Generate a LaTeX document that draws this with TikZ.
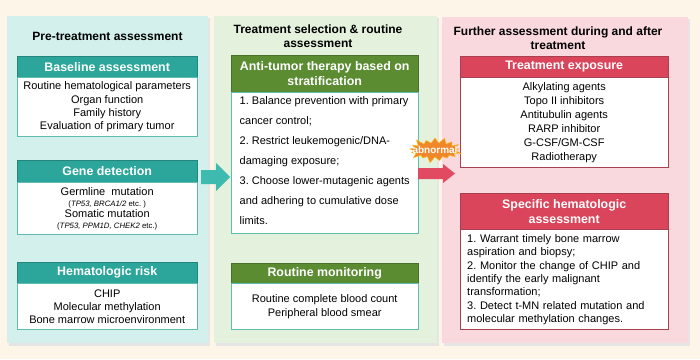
\documentclass[tikz,border=0pt]{standalone}
\usepackage{fontspec}
\setmainfont{Liberation Sans}
\usetikzlibrary{positioning, shapes.symbols}

\definecolor{cream}{HTML}{FDF6E8}
\definecolor{tealbg}{HTML}{D3F0EC}
\definecolor{greenbg}{HTML}{E4F1DC}
\definecolor{pinkbg}{HTML}{F9D8DE}
\definecolor{tealhd}{HTML}{2CA69A}
\definecolor{greenhd}{HTML}{5B8C32}
\definecolor{redhd}{HTML}{DA455B}
\definecolor{tealln}{HTML}{5FBDB0}
\definecolor{redln}{HTML}{A8404F}
\definecolor{burst}{HTML}{F0872B}
\definecolor{tealarr}{HTML}{3EBAAE}
\definecolor{redarr}{HTML}{E24A62}

\frenchspacing
\tikzset{
  paneltitle/.style={font=\fontsize{12}{14}\selectfont\bfseries, align=center},
  head/.style={anchor=north west, inner sep=0pt, text=white, align=center,
    font=\fontsize{12.4}{15}\selectfont\bfseries},
  body/.style={draw, fill=white, inner sep=0pt, align=center,
    font=\fontsize{11}{13.3}\selectfont, below=0pt of #1}
}

\begin{document}
\begin{tikzpicture}[x=1pt, y=-1pt]
\fill[cream] (0,0) rectangle (700,359);
\useasboundingbox (0,0) rectangle (700,359);
% panels
\fill[black!10] (9,18) rectangle (210,346);
\fill[tealbg] (7,16) rectangle (208,343);
\fill[black!10] (216,18) rectangle (439,346);
\fill[greenbg] (214,16) rectangle (437,343);
\fill[black!10] (444,19) rectangle (690,346);
\fill[pinkbg] (442,17) rectangle (688,343);

% titles
\node[paneltitle] (pretitle) at (107.5,36) {Pre-treatment assessment};
\node[paneltitle] (seltitle) at (318,36) {Treatment selection \& routine\\assessment};
\node[paneltitle] (furtitle) at (558,38) {Further assessment during and after\\treatment};

% left column
\node[head, fill=tealhd, draw=tealhd!80!black, minimum width=180pt, minimum height=21pt] (basehead) at (17,56) {Baseline assessment};
\node[body=basehead, draw=tealln, minimum width=180pt, minimum height=59pt] (basebody)
  {Routine hematological parameters\\Organ function\\Family history\\Evaluation of primary tumor};

\node[head, fill=tealhd, draw=tealhd!80!black, minimum width=180pt, minimum height=22pt] (genehead) at (17,160) {Gene detection};
\node[body=genehead, draw=tealln, minimum width=180pt, minimum height=52pt,
  font=\fontsize{11}{11}\selectfont] (genebody)
  {Germline\ \ mutation\\{\fontsize{7.8}{8}\selectfont (\textit{TP53, BRCA1/2} etc. )}\\Somatic mutation\\{\fontsize{7.8}{8}\selectfont (\textit{TP53, PPM1D, CHEK2} etc.)}};

\node[head, fill=tealhd, draw=tealhd!80!black, minimum width=180pt, minimum height=21pt] (riskhead) at (17,262) {Hematologic risk};
\node[body=riskhead, draw=tealln, minimum width=180pt, minimum height=46pt] (riskbody)
  {CHIP\\Molecular methylation\\Bone marrow microenvironment};

% middle column
\node[head, fill=greenhd, draw=greenhd!80!black, minimum width=187pt, minimum height=37pt] (antihead) at (231,55)
  {Anti-tumor therapy based on\\stratification};
\node[body=antihead, draw=tealln, minimum width=187pt, minimum height=141pt, align=left,
  font=\fontsize{11}{20}\selectfont, text depth=6pt] (antibody)
  {1. Balance prevention with primary\\cancer control;\\2. Restrict leukemogenic/DNA-\\damaging exposure;\\3. Choose lower-mutagenic agents\\and adhering to cumulative dose\\limits.};

\node[head, fill=greenhd, draw=greenhd!80!black, minimum width=187pt, minimum height=20pt] (monihead) at (231,263) {Routine monitoring};
\node[body=monihead, draw=tealln, minimum width=187pt, minimum height=46pt] (monibody)
  {Routine complete blood count\\Peripheral blood smear};

% right column
\node[head, fill=redhd, draw=redln, minimum width=208pt, minimum height=21pt] (exphead) at (460,56) {Treatment exposure};
\node[body=exphead, draw=redln, minimum width=208pt, minimum height=90pt,
  font=\fontsize{11}{14}\selectfont] (expbody)
  {Alkylating agents\\Topo II inhibitors\\Antitubulin agents\\RARP inhibitor\\G-CSF/GM-CSF\\Radiotherapy};

\node[head, fill=redhd, draw=redln, minimum width=208pt, minimum height=36pt] (spechead) at (460,193)
  {Specific hematologic\\assessment};
\node[body=spechead, draw=redln, minimum width=208pt, minimum height=100pt, align=left,
  text width=194pt, inner xsep=7pt] (specbody)
  {1. Warrant timely bone marrow\\aspiration and biopsy;\\2. Monitor the change of CHIP and\\identify the early malignant\\transformation;\\3. Detect t-MN related mutation and\\molecular methylation changes.};

% arrows
\fill[tealarr] (201,170) -- (216,170) -- (216,163) -- (230,177) -- (216,191) -- (216,184) -- (201,184) -- cycle;
\fill[redarr] (418,168) -- (443,168) -- (443,164) -- (455,173.5) -- (443,183) -- (443,179) -- (418,179) -- cycle;
\node[starburst, fill=burst, draw=burst!50!yellow, starburst point height=7pt, starburst points=17,
  minimum width=56pt, minimum height=28pt, inner sep=0pt] (burstshape) at (435,150) {};
\node[text=white, font=\fontsize{10}{12}\selectfont\bfseries] (abnormal) at (burstshape) {abnormal};
\end{tikzpicture}
\end{document}
